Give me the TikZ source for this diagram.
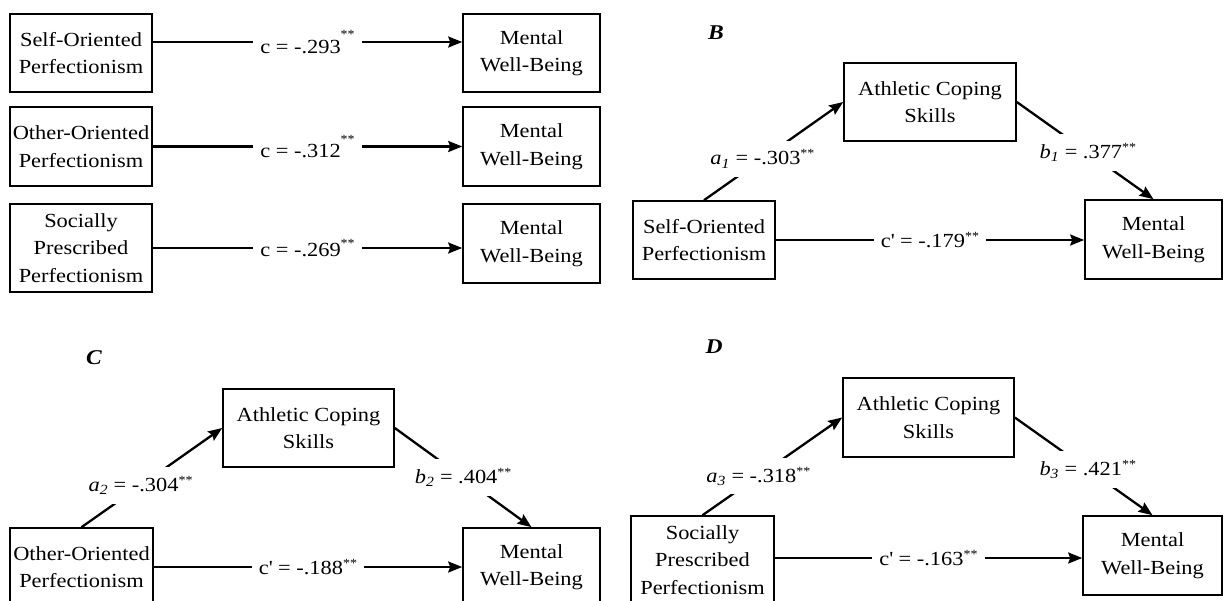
\documentclass[tikz,border=0pt]{standalone}
\usepackage{fontspec}
\setmainfont[FakeStretch=1.12]{Liberation Serif}
\usetikzlibrary{arrows.meta}
\newcommand{\sig}[1][0.35em]{\raisebox{#1}{\fontsize{12.5pt}{12.5pt}\selectfont **}}
\newcommand{\pth}[2]{\textit{#1}\textsubscript{\textit{#2}}}
\newcommand{\cpr}{c\textquotesingle}
\begin{document}
\begin{tikzpicture}[x=1pt,y=-1pt,
  font=\fontsize{20pt}{27.5pt}\selectfont,
  box/.style={draw, line width=1.6pt, align=center, inner sep=0pt},
  arr/.style={line width=2.3pt, -{Stealth[length=14pt,width=11pt,inset=2pt]}},
  lbl/.style={fill=white, inner xsep=7pt, inner ysep=9pt},
  panel/.style={font=\fontsize{21pt}{24pt}\selectfont\bfseries\itshape}]
\useasboundingbox (0,0) rectangle (1225,600);
\fill[white] (0,0) rectangle (1225,600);

% ---------- Panel A ----------
\node[box, minimum width=142pt, minimum height=78pt] (s1) at (81,53) {Self-Oriented\\Perfectionism};
\node[box, minimum width=142pt, minimum height=79pt] (o1) at (81,146.5) {Other-Oriented\\Perfectionism};
\node[box, minimum width=142pt, minimum height=88pt] (p1) at (81,248) {Socially\\Prescribed\\Perfectionism};
\node[box, minimum width=137pt, minimum height=78pt] (m1) at (531.5,53) {Mental\\Well-Being};
\node[box, minimum width=137pt, minimum height=79pt] (m2) at (531.5,146.5) {Mental\\Well-Being};
\node[box, minimum width=137pt, minimum height=79pt] (m3) at (531.5,243.5) {Mental\\Well-Being};

\draw[arr] ([yshift=11pt]s1.east) -- node[lbl] {c = -.293\sig[0.75em]} ([yshift=11pt]m1.west);
\draw[arr] (o1.east) -- node[lbl] {c = -.312\sig[0.7em]} (o1.east -| m2.west);
\draw[arr] (p1.east) -- node[lbl] {c = -.269\sig[0.45em]} (p1.east -| m3.west);

% ---------- Panel B ----------
\node[panel] (lB) at (716,33) {B};
\node[box, minimum width=172pt, minimum height=78pt] (ab) at (930,102) {Athletic Coping\\Skills};
\node[box, minimum width=142pt, minimum height=78pt] (sb) at (704,240) {Self-Oriented\\Perfectionism};
\node[box, minimum width=137pt, minimum height=79pt] (mb) at (1153.5,239.5) {Mental\\Well-Being};

\draw[arr] (sb.north) -- node[lbl, pos=0.42] {\pth{a}{1} = -.303\sig} (ab.west);
\draw[arr] (ab.east) -- node[lbl, pos=0.52] {\pth{b}{1} = .377\sig} (mb.north);
\draw[arr] (sb.east) -- node[lbl] {\cpr{} = -.179\sig} (sb.east -| mb.west);

% ---------- Panel C ----------
\node[panel] (lC) at (94,358) {C};
\node[box, minimum width=171pt, minimum height=78pt] (ac) at (308.5,428) {Athletic Coping\\Skills};
\node[box, minimum width=143pt, minimum height=78pt] (oc) at (81.5,567) {Other-Oriented\\Perfectionism};
\node[box, minimum width=137pt, minimum height=78pt] (mc) at (531.5,567) {Mental\\Well-Being};

\draw[arr] (oc.north) -- node[lbl, pos=0.42] {\pth{a}{2} = -.304\sig} (ac.west);
\draw[arr] (ac.east) -- node[lbl, pos=0.5] {\pth{b}{2} = .404\sig} (mc.north);
\draw[arr] (oc.east) -- node[lbl] {\cpr{} = -.188\sig} (oc.east -| mc.west);

% ---------- Panel D ----------
\node[panel] (lD) at (714,347) {D};
\node[box, minimum width=171pt, minimum height=79pt] (ad) at (928.5,417.5) {Athletic Coping\\Skills};
\node[box, minimum width=143pt, minimum height=88pt] (pd) at (702.5,560) {Socially\\Prescribed\\Perfectionism};
\node[box, minimum width=139pt, minimum height=79pt] (md) at (1152.5,555.5) {Mental\\Well-Being};

\draw[arr] (pd.north) -- node[lbl, pos=0.4] {\pth{a}{3} = -.318\sig} (ad.west);
\draw[arr] (ad.east) -- node[lbl, pos=0.53] {\pth{b}{3} = .421\sig} (md.north);
\draw[arr] ([yshift=2pt]pd.east) -- node[lbl] {\cpr{} = -.163\sig} ([yshift=2pt]pd.east -| md.west);
\end{tikzpicture}
\end{document}
